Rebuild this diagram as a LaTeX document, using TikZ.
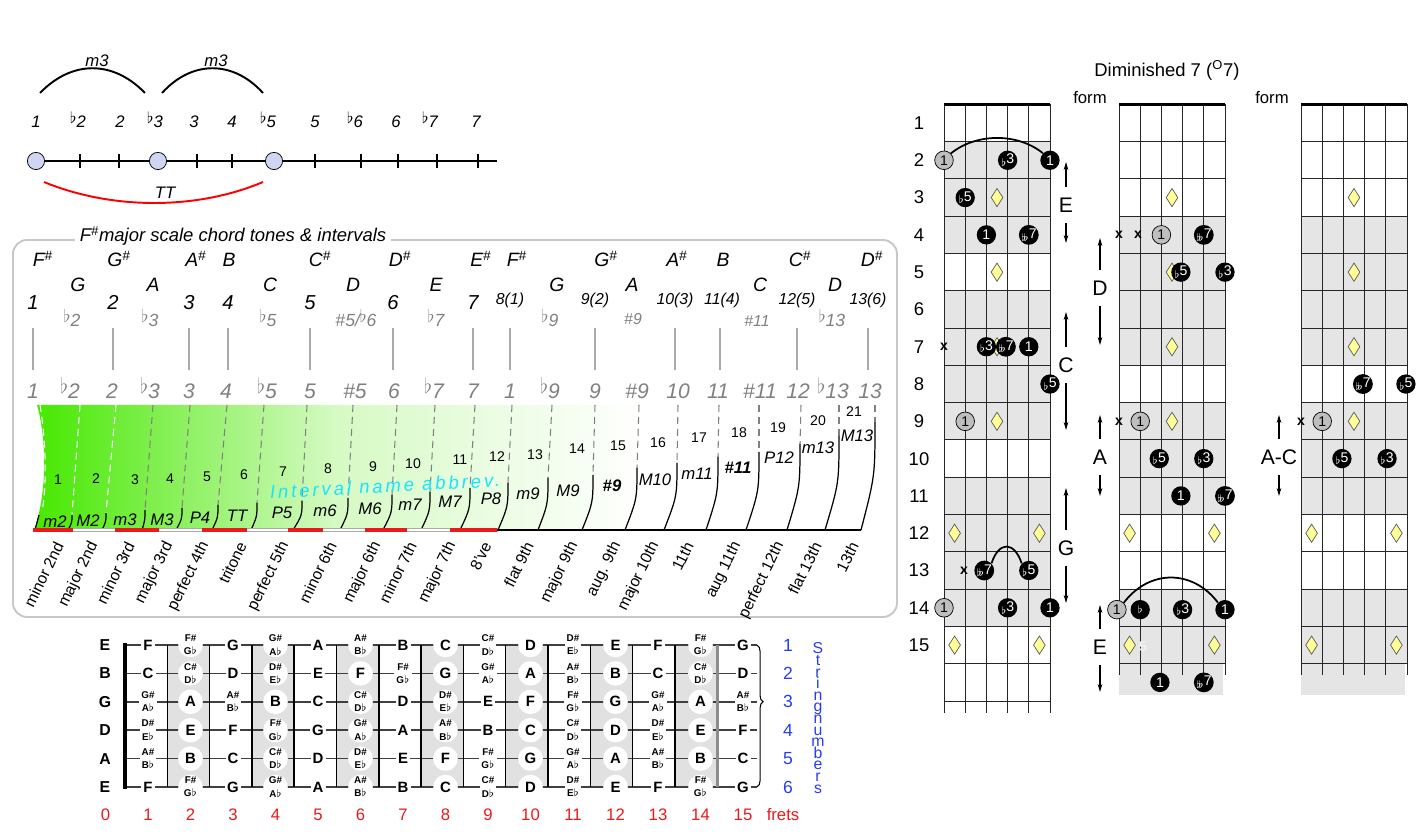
\documentclass[tikz,border=0pt]{standalone}
\usepackage{fontspec}
\setmainfont{Liberation Sans}
\newfontfamily\spacedsans[LetterSpace=16]{Liberation Sans}
\usetikzlibrary{arrows.meta,shapes.geometric,decorations.pathreplacing}

\definecolor{dotblue}{RGB}{208,214,242}
\definecolor{boxgray}{RGB}{200,200,200}
\definecolor{txtgray}{RGB}{128,128,128}
\definecolor{linegray}{RGB}{170,170,170}
\definecolor{hotgreen}{RGB}{70,232,0}
\definecolor{softgreen}{RGB}{214,250,196}
\definecolor{abbrcyan}{RGB}{20,230,255}
\definecolor{fretred}{RGB}{235,25,25}
\definecolor{numblue}{RGB}{40,60,240}
\definecolor{bandgray}{RGB}{225,225,225}
\definecolor{rowgray}{RGB}{229,229,229}
\definecolor{gemyellow}{RGB}{255,255,150}
\definecolor{rootgray}{RGB}{190,190,190}

\newcommand{\fl}{\raisebox{.5ex}{$\flat$}}
\newcommand{\cfl}{\raisebox{-.35ex}{$\scriptstyle\flat$}}
\newcommand{\cdfl}{\raisebox{-.35ex}{$\scriptstyle\flat\mkern-4mu\flat$}}
\newcommand{\shp}{\textsuperscript{\#}}
\newcommand{\accnote}[2]{{\fontsize{5.6}{5.6}\selectfont\shortstack{#1\#\\#2$\flat$}}}
\newcommand{\notename}[1]{\ifcase#1 C\or\accnote{C}{D}\or D\or\accnote{D}{E}\or E\or F\or\accnote{F}{G}\or G\or\accnote{G}{A}\or A\or\accnote{A}{B}\or B\fi}
\newcommand{\tightlines}{\lineskiplimit=-5pt\relax}

\begin{document}
\begin{tikzpicture}[x=0.02cm,y=-0.02cm,
  ivdot/.style={circle,draw,fill=dotblue,minimum size=9.8pt,inner sep=0pt},
  ivtxt/.style={font=\fontsize{9.5}{11}\selectfont\itshape},
  tonelbl/.style={font=\fontsize{11}{12}\selectfont\itshape,anchor=base},
  degbig/.style={font=\fontsize{11.5}{12}\selectfont\itshape,anchor=base},
  degsmall/.style={font=\fontsize{9}{10}\selectfont\itshape,anchor=base},
  altlbl/.style={font=\fontsize{10}{11}\selectfont\itshape,text=txtgray,anchor=base},
  lowlbl/.style={font=\fontsize{12}{13}\selectfont\itshape,text=txtgray,anchor=base},
  semis/.style={font=\fontsize{8}{9}\selectfont},
  abbrlbl/.style={font=\fontsize{9.5}{11}\selectfont\itshape},
  iname/.style={font=\fontsize{9}{10}\selectfont,rotate=64,anchor=east,inner sep=1pt},
  divdash/.style={line width=0.6pt,dash pattern=on 4pt off 2.8pt},
  opennote/.style={font=\fontsize{9}{10}\selectfont\bfseries},
  plainnote/.style={font=\fontsize{8.5}{9}\selectfont\bfseries,fill=white,inner sep=1.2pt},
  bandnote/.style={font=\fontsize{8.5}{9}\selectfont\bfseries,circle,fill=white,inner sep=0pt,minimum size=14pt},
  fretnum/.style={font=\fontsize{9.5}{11}\selectfont,text=fretred},
  strnum/.style={font=\fontsize{10}{11}\selectfont,text=numblue},
  gridln/.style={line width=0.55pt,black!85},
  blkdot/.style={circle,fill=black,text=white,inner sep=0pt,minimum size=11pt,font=\fontsize{8}{8}\selectfont},
  rootdot/.style={circle,draw,fill=rootgray,inner sep=0pt,minimum size=10.6pt,font=\fontsize{8}{8}\selectfont},
  gem/.style={diamond,draw=black!65,fill=gemyellow,inner sep=0pt,minimum width=6.8pt,minimum height=10.5pt},
  mutex/.style={font=\fontsize{8}{8}\selectfont\bfseries,inner sep=0pt},
  rowlbl/.style={font=\fontsize{10.5}{12}\selectfont},
  formlbl/.style={font=\fontsize{12}{14}\selectfont,inner sep=3pt},
  updn/.style={line width=0.6pt,-{Stealth[length=4.5pt,width=2.6pt]},shorten <=3pt},
]
\useasboundingbox (0,0) rectangle (1428,837);

% interval line
\coordinate (linestart) at (36,161);
\coordinate (lineend) at (497,161);
\draw[line width=0.8pt] (linestart) -- (lineend);
\foreach \x in {80,119,197,232,315,361,398,437,478}
  \draw[line width=0.6pt] (\x,154) -- (\x,168);
\foreach \n/\x in {i1/36,i3/158,i5/274}
  \node[ivdot] (\n) at (\x,161) {};
\foreach \x/\t [count=\i] in {36/1,78/\fl2,120/2,155/\fl3,194/3,232/4,268/\fl5,315/5,355/\fl6,396/6,430/\fl7,476/7}
  \node[ivtxt,anchor=base] (deg\i) at (\x,128) {\t};
\coordinate (ma) at (40,93); \coordinate (mb) at (145,93);
\coordinate (mc) at (162,93); \coordinate (md) at (263,93);
\coordinate (ta) at (44,182); \coordinate (tb) at (263,182);
\draw[line width=1.1pt] (ma) .. controls +(32,-33) and +(-32,-33) .. (mb);
\draw[line width=1.1pt] (mc) .. controls +(30,-33) and +(-30,-33) .. (md);
\draw[red,line width=1.1pt] (ta) .. controls +(68,28) and +(-66,28) .. (tb);
\node[ivtxt] (m3a) at (97,61) {m3};
\node[ivtxt] (m3b) at (216,61) {m3};
\node[ivtxt] (tt) at (165,193) {TT};

% chord tones box
\draw[boxgray,line width=1.1pt,rounded corners=8pt] (13,240) rectangle (897,617);
\node[fill=white,inner sep=3pt,font=\fontsize{10.5}{12}\selectfont\itshape] (title) at (233,236) {F\shp major scale chord tones \& intervals};

\foreach \x/\t [count=\i] in {43/F\shp,119/G\shp,196/A\shp,229/B,320/C\shp,400/D\shp,481/E\shp,517/F\shp,606/G\shp,677/A\shp,723/B,800/C\shp,872/D\shp}
  \node[tonelbl] (sharp\i) at (\x,267) {\t};
\foreach \x/\t [count=\i] in {78/G,153/A,270/C,353/D,436/E,557/G,632/A,760/C,835/D}
  \node[tonelbl] (nat\i) at (\x,292) {\t};
\foreach \x/\t [count=\i] in {33/1,113/2,189/3,228/4,310/5,393/6,473/7}
  \node[degbig] (deg-a\i) at (\x,310) {\t};
\foreach \x/\t [count=\i] in {510/8(1),595/9(2),675/10(3),722/11(4),797/12(5),868/13(6)}
  \node[degsmall] (deg-b\i) at (\x,305) {\t};
\foreach \x/\t [count=\i] in {72/\fl2,150/\fl3,268/\fl5,436/\fl7,550/\fl9,832/\fl13}
  \node[altlbl] (alt\i) at (\x,327) {\t};
\node[altlbl] (altsix) at (356,327) {\#5/\fl6};
\node[altlbl,font=\fontsize{9}{10}\selectfont\itshape] (altnine) at (633,325) {\#9};
\node[altlbl,font=\fontsize{9}{10}\selectfont\itshape] (alteleven) at (757,327) {\#11};
\foreach \x in {33,113,189,228,310,393,473,510,595,675,720,797,868}
  \draw[linegray,line width=0.7pt] (\x,328) -- (\x,370);
\foreach \x/\t [count=\i] in {33/1,70/\fl2,112/2,150/\fl3,189/3,226/4,267/\fl5,310/5,355/\#5,394/6,434/\fl7,473/7,510/1,550/\fl9,595/9,637/\#9,678/10,718/11,760/\#11,798/12,833/\fl13,870/13}
  \node[lowlbl] (low\i) at (\x,399) {\t};

% green fade
\shade[left color=hotgreen,right color=white,middle color=softgreen]
  (37,405) .. controls (47,440) and (47,495) .. (34,530) -- (640,530) -- (640,405) -- cycle;

% dividers
\draw[divdash,white] (40,405) .. controls (46,440) and (47,485) .. (42,512);
\draw[line width=0.7pt] (39,515) -- (35,530);
\foreach \d/\s/\b/\h/\c in {80/72/68/515/white,116/106/102/513/white,153/145/142/510/txtgray,190/182/176/508/txtgray,227/218/212/505/txtgray,264/257/251/503/txtgray,307/302/293/501/txtgray,353/348/340/498/txtgray,397/392/383/495/txtgray,435/430/421/492/txtgray,475/470/460/488/txtgray,512/508/498/483/txtgray,552/548/538/478/txtgray,595/593/582/475/txtgray,639/637/625/468/txtgray,678/677/664/463/txtgray,719/718/706/457/txtgray,759/759/746/452/txtgray,801/800/787/444/txtgray,839/839/825/436/txtgray,875/875/861/422/txtgray}{
  \draw[divdash,\c] (\d,405) -- (\s,\h);
  \draw[line width=0.7pt] (\s,\h) .. controls (\s,{(\h+530)/2}) .. (\b,530);
}
\draw[linegray,line width=0.5pt,fill=white] (33,528.3) rectangle (497,531.7);
\foreach \a/\b in {33/73,115/159,202/247,288/323,365/407,450/497}
  \fill[fretred] (\a,528) rectangle (\b,532);
\draw[line width=0.7pt] (497,530) -- (861,530);

\foreach \x/\y [count=\i] in {58/480,96/479,135/480,170/479,207/477,244/475,283/472,328/469,373/467,413/464,460/460,497/457,535/455,577/449,618/446,658/443,699/438,739/433,778/428,818/421,854/412}
  \node[semis] (semi\i) at (\x,\y) {\i};
\foreach \x/\y/\t [count=\i] in {55/522/m2,88/521/M2,125/520/m3,162/520/M3,200/518/P4,237/516/TT,282/513/P5,325/511/m6,370/509/M6,410/505/m7,450/502/M7,491/499/P8,528/494/m9,568/491/M9,612/486/\textbf{\#9},655/480/M10,697/474/m11,738/468/\textbf{\#11},779/458/P12,818/448/m13,857/436/M13}
  \node[abbrlbl] (abbr\i) at (\x,\y) {\t};
\node[rotate=3,text=abbrcyan,inner sep=0pt,font=\spacedsans\itshape\fontsize{10.5}{12}\selectfont] (abbrev) at (385,486) {Interval name abbrev.};
\foreach \x/\t [count=\i] in {62/minor 2nd,97/major 2nd,133/minor 3rd,172/major 3rd,208/perfect 4th,245/tritone,288/perfect 5th,335/minor 6th,380/major 6th,415/minor 7th,455/major 7th,490/8've,532/flat 9th,577/major 9th,620/aug. 9th,658/major 10th,692/11th,740/aug 11th,783/perfect 12th,820/flat 13th,857/13th}
  \node[iname] (name\i) at (\x-2,541) {\t};

% fretboard
\foreach \f in {2,4,...,14}
  \fill[bandgray] ({125+42.3*(\f-1)},645) rectangle ({125+42.3*\f},787);
\foreach \s in {1,...,6}
  \draw[black!75,line width=0.8pt] (125,{645+28.4*(\s-1)}) -- (757,{645+28.4*(\s-1)});
\foreach \k in {1,...,13}
  \draw[line width=0.8pt] ({125+42.3*\k},645) -- ({125+42.3*\k},787);
\draw[black!45,line width=1.6pt] ({125+42.3*14},645) -- ({125+42.3*14},787);
\draw[line width=2.6pt] (125,643) -- (125,789);
\foreach \s/\o/\n in {1/4/E,2/11/B,3/7/G,4/2/D,5/9/A,6/4/E}{
  \node[opennote] (open\s) at (105,{645+28.4*(\s-1)}) {\n};
  \foreach \f in {1,...,15}{
    \pgfmathtruncatemacro\nn{mod(\o+\f,12)}
    \ifodd\f
      \node[plainnote] (n\s-\f) at ({105.5+42.5*\f},{645+28.4*(\s-1)}) {\notename{\nn}};
    \else
      \node[bandnote] (n\s-\f) at ({105.5+42.5*\f},{645+28.4*(\s-1)}) {\notename{\nn}};
    \fi
  }
  \node[strnum] (str\s) at (788,{645+28.4*(\s-1)}) {\s};
}
\coordinate (bracetop) at (757,645);
\coordinate (bracebot) at (757,787);
\draw[line width=0.6pt,decorate,decoration={brace,amplitude=3.5pt,aspect=0.4}] (bracetop) -- (bracebot);
\foreach \f in {0,...,15}
  \node[fretnum] (fret\f) at ({105.5+42.5*\f},815) {\f};
\node[fretnum] (fretword) at (783,815) {frets};
\node[text=numblue,align=center,font=\fontsize{9}{6.6}\selectfont\tightlines] (strword) at (818,718) {S\\t\\r\\i\\n\\g\\n\\u\\m\\b\\e\\r\\s};

% chord grids
\node[font=\fontsize{10.5}{12}\selectfont] (dimtitle) at (1167,70) {Diminished 7 (\textsuperscript{O}7)};
\node[font=\fontsize{9.5}{11}\selectfont] (formA) at (1090,98) {form};
\node[font=\fontsize{9.5}{11}\selectfont] (formB) at (1272,98) {form};
\foreach \r in {1,...,15}
  \node[rowlbl] (row\r) at (919,{85.7+37.3*\r}) {\r};
\foreach \xo/\rows/\nf/\send in {944/{2,3,4,6,7,8,9,11,12,13,14}/16/16.82,1119/{4,5,6,7,9,10,11,14,15}/15/15.8,1301/{4,5,6,7,9,10,11,14,15}/15/15.8}{
  \begin{scope}[shift={(\xo,85.7)},x=0.424cm,y=-0.746cm]
    \foreach \r in \rows
      \fill[rowgray] (0,\r-0.5) rectangle (5,\r+0.5);
    \ifnum\nf=15 \fill[rowgray] (0,15.5) rectangle (4.9,16.33); \fi
    \foreach \k in {1,...,\nf}
      \draw[gridln] (0,\k+0.5) -- (5,\k+0.5);
    \foreach \s in {0,...,5}
      \draw[gridln] (\s,0.5) -- (\s,\send);
    \draw[line width=1.7pt] (0,0.5) -- (5,0.5);
  \end{scope}
}

% first grid
\begin{scope}[shift={(944,85.7)},x=0.424cm,y=-0.746cm]
  \foreach \x/\y [count=\i] in {2.5/3,2.5/5,2.5/7,2.5/9,0.5/12,4.5/12,0.5/15,4.5/15}
    \node[gem] (gA\i) at (\x,\y) {};
  \foreach \x/\y/\t [count=\i] in {3/2/\cfl3,5/2/1,1/3/\cfl5,2/4/1,4/4/\cdfl7,2/7/\cfl3,2.92/7/\cdfl7,4/7/1,5/8/\cfl5,1.9/13/\cdfl7,4/13/\cfl5,3/14/\cfl3,5/14/1}
    \node[blkdot] (bA\i) at (\x,\y) {\t};
  \foreach \x/\y [count=\i] in {0/2,1/9,0/14}
    \node[rootdot] (rA\i) at (\x,\y) {1};
  \foreach \x/\y [count=\i] in {0/7,0.94/13}
    \node[mutex] (xA\i) at (\x,\y) {x};
  \draw[line width=1pt] (rA1.north east) .. controls +(1.2,-0.55) and +(-1.2,-0.55) .. (bA2.north west);
  \draw[line width=1pt] (bA10.north east) .. controls +(0.35,-0.6) and +(-0.35,-0.6) .. (bA11.north west);
\end{scope}

% second grid
\begin{scope}[shift={(1119,85.7)},x=0.424cm,y=-0.746cm]
  \foreach \x/\y [count=\i] in {2.5/3,2.5/5,2.5/7,2.5/9,0.5/12,4.5/12,0.5/15,4.5/15}
    \node[gem] (gB\i) at (\x,\y) {};
  \foreach \x/\y/\t [count=\i] in {4/4/\cdfl7,2.92/5/\cfl5,5/5/\cfl3,1.9/10/\cfl5,4/10/\cfl3,2.92/11/1,5/11/\cdfl7,1/14.05/\cfl,3/14.05/\cfl3,5/14.05/1,1.93/16/1,4/16/\cdfl7}
    \node[blkdot] (bB\i) at (\x,\y) {\t};
  \foreach \x/\y [count=\i] in {2/4,1/9,-0.1/14.05}
    \node[rootdot] (rB\i) at (\x,\y) {1};
  \foreach \x/\y [count=\i] in {0/4,0.9/4,0/9}
    \node[mutex] (xB\i) at (\x,\y) {x};
  \node[text=black!5,font=\fontsize{8}{8}\selectfont\bfseries] (ghost) at (1.13,15.05) {5};
  \draw[line width=1pt] (rB3.north east) .. controls +(1.2,-0.9) and +(-1.2,-0.9) .. (bB10.north west);
\end{scope}

% third grid
\begin{scope}[shift={(1301,85.7)},x=0.424cm,y=-0.746cm]
  \foreach \x/\y [count=\i] in {2.5/3,2.5/5,2.5/7,2.5/9,0.5/12,4.5/12,0.5/15,4.5/15}
    \node[gem] (gC\i) at (\x,\y) {};
  \foreach \x/\y/\t [count=\i] in {2.92/8/\cdfl7,4.95/8/\cfl5,1.93/10/\cfl5,4.06/10/\cfl3}
    \node[blkdot] (bC\i) at (\x,\y) {\t};
  \node[rootdot] (rC1) at (1,9) {1};
  \node[mutex] (xC1) at (0,9) {x};
\end{scope}

% form labels
\foreach \n/\x/\y/\t/\ua/\da in {lE/1066/205/E/162/243,lC/1066/365/C/312/430,lG/1066/548/G/488/603,lD/1100/288/D/238/345,lA/1100/457/A/415/496,lEE/1100/647/E/605/692,lAC/1279/457/A-C/415/496}{
  \node[formlbl] (\n) at (\x,\y) {\t};
  \coordinate (\n-top) at (\x,\ua);
  \coordinate (\n-bot) at (\x,\da);
  \draw[updn] (\n.north) -- (\n-top);
  \draw[updn] (\n.south) -- (\n-bot);
}
\end{tikzpicture}
\end{document}
